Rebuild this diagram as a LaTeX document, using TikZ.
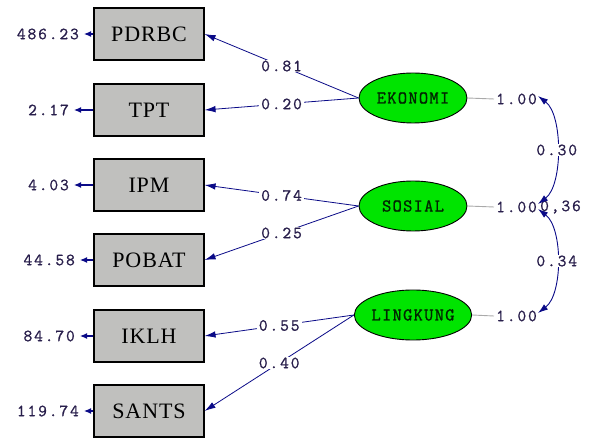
\documentclass[tikz,border=0pt]{standalone}
\usepackage{fontspec}
\usetikzlibrary{arrows.meta,shapes.geometric}
\newfontfamily\numfont{Latin Modern Mono}[LetterSpace=11,FakeBold=1]
\newfontfamily\latfont{Latin Modern Mono}[LetterSpace=7,FakeBold=1.2]
\newfontfamily\obsfont{Liberation Serif}[LetterSpace=4]
\definecolor{navy}{RGB}{10,10,135}
\definecolor{numcol}{RGB}{40,30,75}
\definecolor{boxgray}{RGB}{192,192,190}
\definecolor{latgreen}{RGB}{0,228,0}
\definecolor{varline}{RGB}{170,170,170}
\tikzset{
  obs/.style={draw=black, line width=1.1pt, fill=boxgray, minimum width=110pt,
    minimum height=52pt, inner sep=0pt, font=\obsfont\fontsize{22}{22}\selectfont},
  lat/.style={ellipse, draw=black, line width=0.9pt, fill=latgreen, minimum width=108pt,
    minimum height=50pt, inner sep=0pt, text=black!85!green,
    font=\latfont\fontsize{18}{18}\selectfont},
  num/.style={text=numcol, font=\numfont\fontsize{17}{17}\selectfont, inner sep=0pt},
  errlab/.style={num, anchor=east, inner xsep=5pt},
  lab/.style={num, fill=white, inner xsep=2pt, inner ysep=1pt},
  load/.style={draw=navy, line width=0.8pt, -{Latex[length=11pt,width=6.5pt]}},
  err/.style={draw=navy, line width=1.2pt, -{Latex[length=7pt,width=6pt]}},
  vline/.style={draw=varline, line width=0.9pt},
  cov/.style={draw=navy, line width=0.9pt, {Latex[length=10pt,width=6.5pt]}-{Latex[length=10pt,width=6.5pt]}},
}
\begin{document}
\begin{tikzpicture}[x=1pt, y=-1pt]
  \useasboundingbox (0,0) rectangle (590,438);

  % observed indicators
  \node[obs] (pdrbc) at (149,34)  {PDRBC};
  \node[obs] (tpt)   at (149,110) {TPT};
  \node[obs] (ipm)   at (149,185) {IPM};
  \node[obs] (pobat) at (149,260) {POBAT};
  \node[obs] (iklh)  at (149,336) {IKLH};
  \node[obs] (sants) at (149,411) {SANTS};

  % latent factors
  \node[lat] (eko) at (413,98)  {EKONOMI};
  \node[lat] (sos) at (413,206) {SOSIAL};
  \node[lat] (lin) at (413,315) {LINGKUNG};

  % error variances
  \node[errlab] (e1) at (84,34)  {486.23};
  \node[errlab] (e2) at (74,110) {2.17};
  \node[errlab] (e3) at (74,185) {4.03};
  \node[errlab] (e4) at (80,260) {44.58};
  \node[errlab] (e5) at (80,336) {84.70};
  \node[errlab] (e6) at (84,411) {119.74};
  \foreach \b/\e in {pdrbc/e1, tpt/e2, ipm/e3, pobat/e4, iklh/e5, sants/e6}
    \draw[err] (\b.west) -- (\e.east);

  % factor loadings
  \draw[load] (eko.west) -- node[lab] {0.81} (pdrbc.east);
  \draw[load] (eko.west) -- node[lab] {0.20} (tpt.east);
  \draw[load] (sos.west) -- node[lab] {0.74} (ipm.east);
  \draw[load] (sos.west) -- node[lab] {0.25} (pobat.east);
  \draw[load] (lin.west) -- node[lab] {0.55} (iklh.east);
  \draw[load] (lin.west) -- node[lab] {0.40} (sants.east);

  % factor variances
  \node[num, anchor=west] (v1) at (496,99)  {1.00};
  \node[num, anchor=west] (v2) at (496,207) {1.00};
  \node[num, anchor=west] (v3) at (496,316) {1.00};
  \draw[vline] (eko.east) -- ([xshift=-2pt]v1.west);
  \draw[vline] (sos.east) -- ([xshift=-2pt]v2.west);
  \draw[vline] (lin.east) -- ([xshift=-2pt]v3.west);
  \node[num, anchor=west] (c13) at (540,207) {0,36};

  % factor covariances
  \coordinate (k1) at (538,96);
  \coordinate (k2) at (538,204);
  \coordinate (k3) at (538,209);
  \coordinate (k4) at (538,313);
  \draw[cov] (k1) .. controls (563,115) and (563,185) .. node[lab] {0.30} (k2);
  \draw[cov] (k3) .. controls (563,228) and (563,294) .. node[lab] {0.34} (k4);
\end{tikzpicture}
\end{document}
